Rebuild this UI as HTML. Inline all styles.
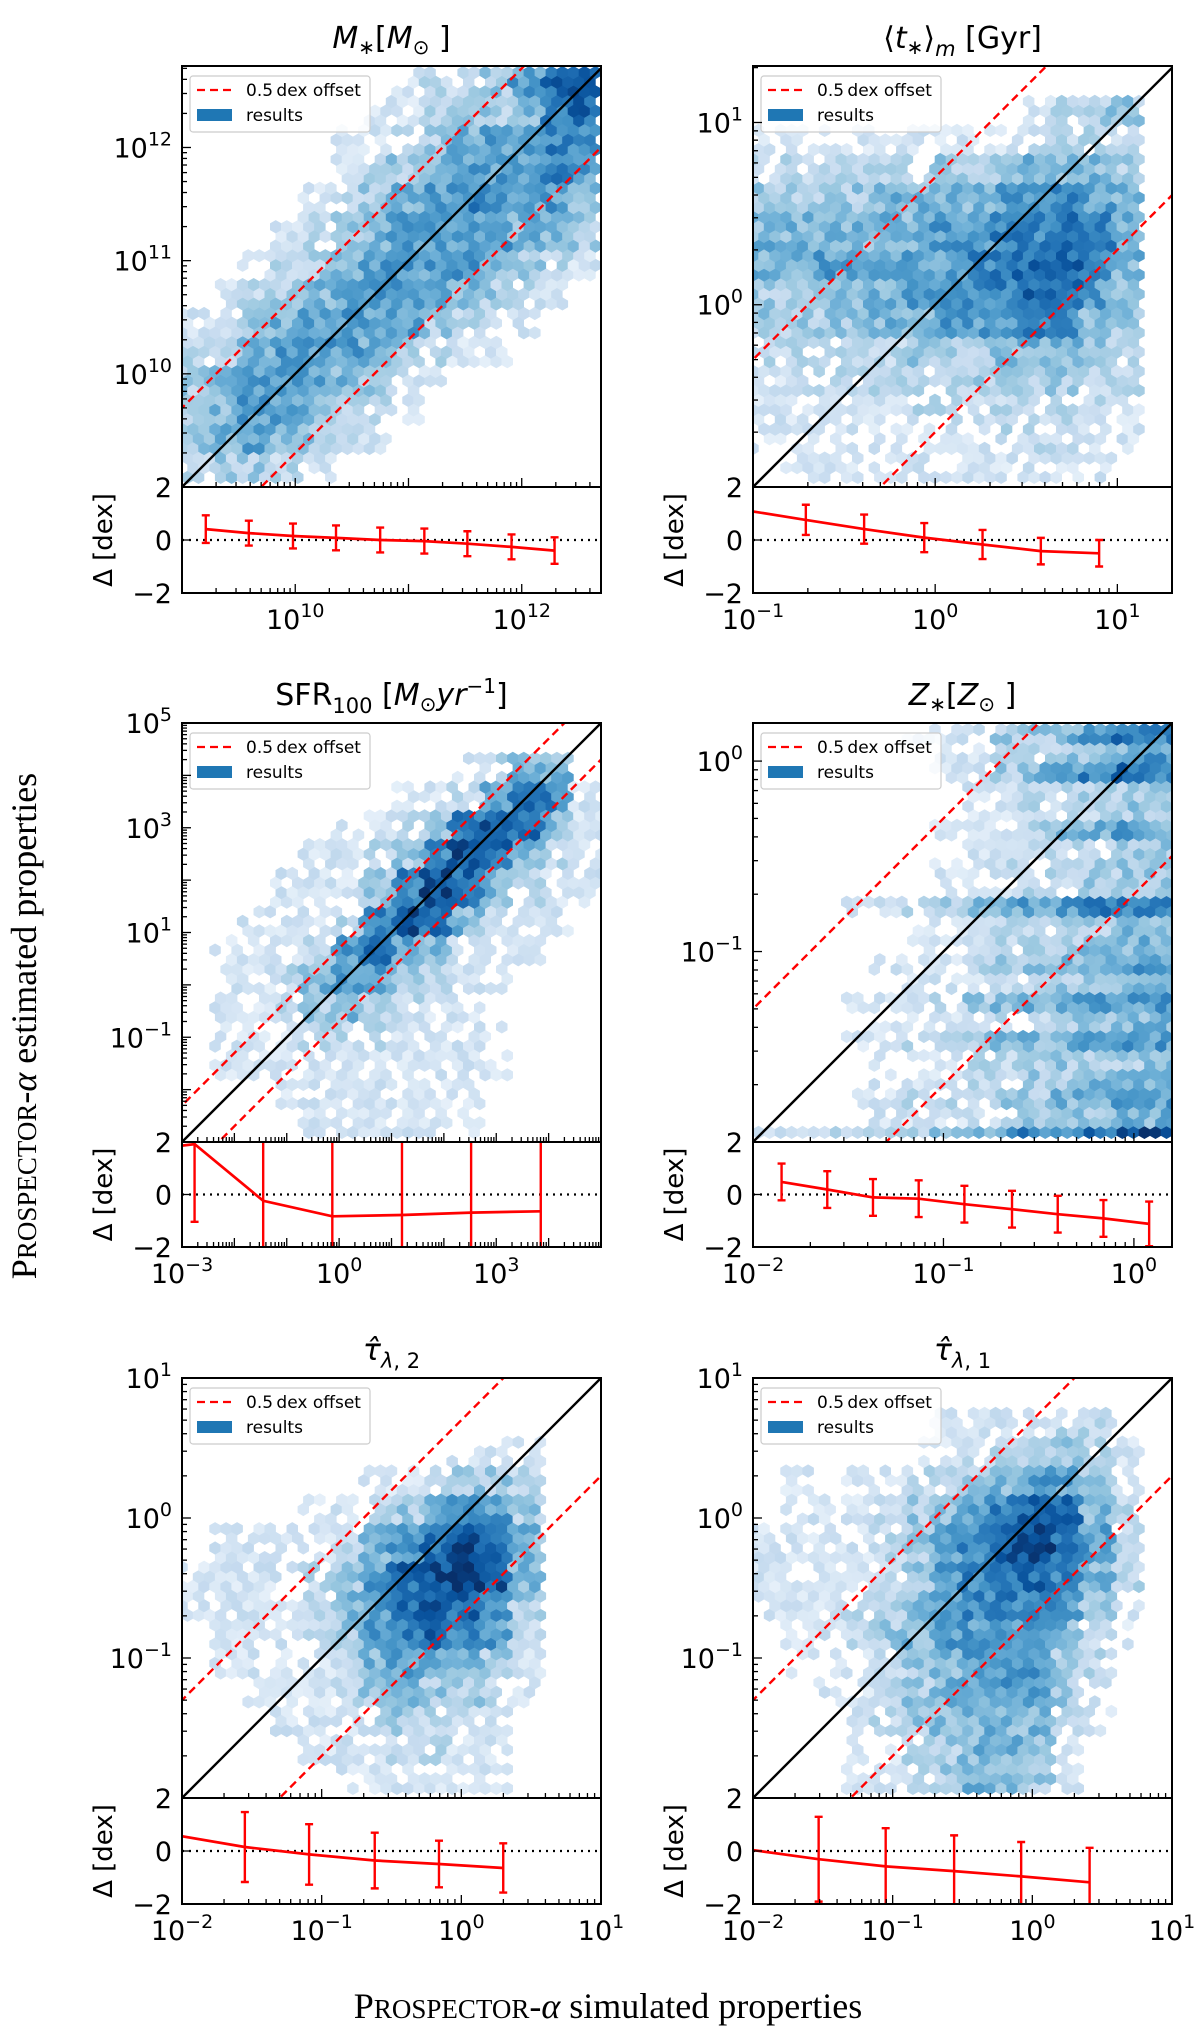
<!DOCTYPE html>
<html><head><meta charset="utf-8"><title>Prospector-alpha recovery</title>
<style>
html,body{margin:0;padding:0;background:#fff;}
svg{display:block;font-family:"DejaVu Sans","Liberation Sans",sans-serif;}
</style></head>
<body>
<svg id="fig" width="1200" height="2044" viewBox="0 0 1200 2044" xmlns="http://www.w3.org/2000/svg">
<text transform="translate(36,1026) rotate(-90)" text-anchor="middle" font-family="'Liberation Serif',serif" font-size="36">P<tspan font-size="27">ROSPECTOR</tspan>-<tspan font-style="italic">α</tspan> estimated properties</text>
<text x="608" y="2018" text-anchor="middle" font-family="'Liberation Serif',serif" font-size="36">P<tspan font-size="27">ROSPECTOR</tspan>-<tspan font-style="italic">α</tspan> simulated properties</text>
</svg>
<script>
// ---------- data ----------
const massDensity=["00000001223578","00000011233467","00000112345566","00000123455565","00001234565554","00012345555443","00123455554321","01234555543210","12345555321100","23455543211000","34555432100000","34554321000000","34543210000000","23321000000000"];
const ageDensity=["00000000000000","00000000012330","11111111122220","22222233344430","33334444556540","44444455667640","44555556777640","33444556677530","33334455566430","22222333444320","12222223333220","11111222222210","11111111222110","01111111111100"];
const sfrDensity=["00000000000000","00000000012440","00000001125761","00000112368741","00001123687421","00011136874211","00111268742110","01112575421100","01124553211000","01123432110000","01112221111000","01111111111000","00011111110000","00001111110000"];
const metDensity=["00000112334576","00000011223345","00000012345676","00000001122333","00000001122233","00000011234454","00000001122233","00000011223333","00000011122333","00011234455666","00000111223344","00000112233444","00001112334455","00000111223344","00011123445555","00001111223344","00011223444555","00001112233334","00001112233444","00011222334455","00001112233344","11223344566789"];
const tau2Density=["00000000000000","00000000000000","00000000011100","00000011233200","00001123455300","01111245787400","11112357898400","11112457876300","01112356765200","01111245543100","00111234332100","00011123221000","00001112211000","00000111111000"];
const tau1Density=["00000000000000","00000011112200","00000112233210","01011223455310","01112345677420","11112356887520","11112356776420","11123456665310","01123455554210","01112345553200","00112345553100","00012344442100","00011234431000","00011234431000"];

const massResX=[9.21,9.59,9.98,10.36,10.75,11.14,11.52,11.91,12.29];
const massResY=[0.41,0.26,0.15,0.08,0.0,-0.04,-0.14,-0.26,-0.40];
const massResErr=[0.52,0.47,0.47,0.47,0.47,0.47,0.47,0.47,0.50];
const ageResX=[-1.04,-0.71,-0.39,-0.06,0.26,0.58,0.90];
const ageResY=[1.12,0.76,0.41,0.09,-0.17,-0.42,-0.50];
const ageResErr=[0,0.57,0.55,0.55,0.55,0.50,0.50];
const sfrResX=[-3.1,-2.76,-1.45,-0.13,1.2,2.52,3.85];
const sfrResY=[1.84,1.92,-0.24,-0.83,-0.78,-0.69,-0.64];
const sfrResErr=[0,2.96,3.5,3.5,3.5,3.5,2.65];
const metResX=[-1.85,-1.61,-1.37,-1.13,-0.89,-0.64,-0.40,-0.16,0.08];
const metResY=[0.48,0.19,-0.11,-0.16,-0.37,-0.56,-0.75,-0.91,-1.12];
const metResErr=[0.7,0.7,0.7,0.7,0.7,0.7,0.7,0.7,0.85];
const tau2ResX=[-2.05,-1.55,-1.09,-0.62,-0.16,0.30];
const tau2ResY=[0.60,0.15,-0.13,-0.36,-0.49,-0.64];
const tau2ResErr=[0,1.32,1.14,1.05,0.88,0.93];
const tau1ResX=[-2.05,-1.53,-1.05,-0.56,-0.08,0.41];
const tau1ResY=[0.07,-0.31,-0.58,-0.76,-0.96,-1.18];
const tau1ResErr=[0,1.6,1.44,1.35,1.3,1.3];

const massXTicks=[10,12], massYTicks=[10,11,12];
const ageXTicks=[-1,0,1], ageYTicks=[0,1];
const sfrXTicks=[-3,0,3], sfrYTicks=[-1,1,3,5];
const metXTicks=[-2,-1,0], metYTicks=[-1,0];
const tauXTicks=[-2,-1,0,1], tauYTicks=[-1,0,1];
const resTicks=[2,0,-2];
const offsetDex=0.699;

// ---------- layout ----------
const colX=[182,753], PW=419;
const rowTop=[66,723,1378], rowMid=[487,1142,1798], rowBot=[593,1247,1904];
const panels=[
 {key:'mass',c:0,r:0,xr:[9,12.7],yr:[9,12.72],dens:massDensity,rx:massResX,ry:massResY,re:massResErr,xt:massXTicks,yt:massYTicks,
  title:'<tspan font-style="italic">M</tspan><tspan font-size="20" dy="6">∗</tspan><tspan dy="-6">[</tspan><tspan font-style="italic">M</tspan><tspan font-size="20" dy="6">⊙</tspan><tspan dy="-6"> ]</tspan>'},
 {key:'age',c:1,r:0,xr:[-1,1.3],yr:[-1,1.31],dens:ageDensity,rx:ageResX,ry:ageResY,re:ageResErr,xt:ageXTicks,yt:ageYTicks,
  title:'⟨<tspan font-style="italic">t</tspan><tspan font-size="20" dy="6">∗</tspan><tspan dy="-6">⟩</tspan><tspan font-style="italic" font-size="21" dy="8">m</tspan><tspan dy="-8"> [Gyr]</tspan>'},
 {key:'sfr',c:0,r:1,xr:[-3,5],yr:[-3,5],dens:sfrDensity,rx:sfrResX,ry:sfrResY,re:sfrResErr,xt:sfrXTicks,yt:sfrYTicks,
  title:'SFR<tspan font-size="21" dy="8">100</tspan><tspan dy="-8"> [</tspan><tspan font-style="italic">M</tspan><tspan font-size="20" dy="6">⊙</tspan><tspan font-style="italic" dy="-6">yr</tspan><tspan font-size="20" dy="-12">−1</tspan><tspan dy="12">]</tspan>'},
 {key:'met',c:1,r:1,xr:[-2,0.2],yr:[-2,0.2],dens:metDensity,rx:metResX,ry:metResY,re:metResErr,xt:metXTicks,yt:metYTicks,
  title:'<tspan font-style="italic">Z</tspan><tspan font-size="20" dy="6">∗</tspan><tspan dy="-6">[</tspan><tspan font-style="italic">Z</tspan><tspan font-size="20" dy="6">⊙</tspan><tspan dy="-6"> ]</tspan>'},
 {key:'tau2',c:0,r:2,xr:[-2,1],yr:[-2,1],dens:tau2Density,rx:tau2ResX,ry:tau2ResY,re:tau2ResErr,xt:tauXTicks,yt:tauYTicks,
  title:'<tspan font-style="italic">τ̂</tspan><tspan font-style="italic" font-size="21" dy="8">λ</tspan><tspan font-size="21">, 2</tspan>'},
 {key:'tau1',c:1,r:2,xr:[-2,1],yr:[-2,1],dens:tau1Density,rx:tau1ResX,ry:tau1ResY,re:tau1ResErr,xt:tauXTicks,yt:tauYTicks,
  title:'<tspan font-style="italic">τ̂</tspan><tspan font-style="italic" font-size="21" dy="8">λ</tspan><tspan font-size="21">, 1</tspan>'}
];

const NS='http://www.w3.org/2000/svg';
const svg=document.getElementById('fig');
function el(tag,attrs,parent){const e=document.createElementNS(NS,tag);for(const k in attrs)e.setAttribute(k,attrs[k]);(parent||svg).appendChild(e);return e;}
const blues=[[247,251,255],[222,235,247],[198,219,239],[158,202,225],[107,174,214],[66,146,198],[33,113,181],[8,81,156],[8,48,107]];
function blue(t){t=Math.max(0,Math.min(1,t))*8;const i=Math.min(7,Math.floor(t)),f=t-i;const a=blues[i],b=blues[i+1];
 return 'rgb('+a.map((v,k)=>Math.round(v+(b[k]-v)*f)).join(',')+')';}
// deterministic texture pattern for hex shading (styling only)
function texture(i,j){const h=Math.sin(i*12.9898+j*78.233)*43758.5453;return h-Math.floor(h);}
function expLabel(g,x,y,anchor,exp,name){
 const t=el('text',{x:x,y:y,'text-anchor':anchor,'font-size':27,fill:'#000'},g);
 
 
 t.innerHTML='10<tspan font-size="19" dy="-12">'+(exp<0?'−'+(-exp):exp)+'</tspan>';
 return t;}
const defs=el('defs',{});

panels.forEach((p,pi)=>{
 const x0=colX[p.c], x1=x0+PW, top=rowTop[p.r], mid=rowMid[p.r], bot=rowBot[p.r];
 const sx=v=>x0+(v-p.xr[0])/(p.xr[1]-p.xr[0])*PW;
 const sy=v=>mid-(v-p.yr[0])/(p.yr[1]-p.yr[0])*(mid-top);
 const ry=v=>bot-(v+2)/4*(bot-mid);
 const g=el('g',{});
 
 
 const cm=el('clipPath',{id:'cm'+pi},defs); el('rect',{x:x0,y:top,width:PW,height:mid-top},cm);
 const cr=el('clipPath',{id:'cr'+pi},defs); el('rect',{x:x0,y:mid,width:PW,height:bot-mid},cr);
 const tt=el('text',{x:(x0+x1)/2,y:top-18,'text-anchor':'middle','font-size':30},g);
 
 
 tt.innerHTML=p.title;
 const hg=el('g',{'clip-path':'url(#cm'+pi+')'},g);
 
 
 const nr=p.dens.length, nc=p.dens[0].length;
 const dxv=(p.xr[1]-p.xr[0])/38, dx=sx(p.xr[0]+dxv)-sx(p.xr[0]); const rr=dx/Math.sqrt(3)*1.04;
 const dyv=(p.yr[1]-p.yr[0])/38*0.87;
 let row=0;
 for(let yv=p.yr[0]; yv<=p.yr[1]+dyv; yv+=dyv,row++){
  let col=0;
  for(let xv=p.xr[0]+(row%2?dxv/2:0); xv<=p.xr[1]+dxv; xv+=dxv,col++){
   const ci=Math.floor((xv-p.xr[0])/(p.xr[1]-p.xr[0])*nc), ri=Math.floor((p.yr[1]-yv)/(p.yr[1]-p.yr[0])*nr);
   if(ci<0||ci>=nc||ri<0||ri>=nr) continue;
   const v=+p.dens[ri][ci]; if(!v) continue;
   const tx=texture(row+pi*97,col);
   if(v<=2 && tx<0.45-0.12*v) continue;
   const lvl=v+(tx-0.5)*2.6;
   const cx=sx(xv), cy=sy(yv), h=dx/2*1.04;
   const pts=[[0,-rr],[h,-rr/2],[h,rr/2],[0,rr],[-h,rr/2],[-h,-rr/2]].map(q=>(cx+q[0]).toFixed(1)+','+(cy+q[1]).toFixed(1)).join(' ');
   const hx=el('polygon',{points:pts,fill:blue(0.03+lvl/9*0.95)},hg);
   
   
  }
 }
 const lg=el('g',{'clip-path':'url(#cm'+pi+')'},g);
 const lo=Math.min(p.xr[0],p.yr[0])-1, hi=Math.max(p.xr[1],p.yr[1])+1;
 const one=el('line',{x1:sx(lo),y1:sy(lo),x2:sx(hi),y2:sy(hi),stroke:'#000','stroke-width':2.4},lg);
 
 
 [offsetDex,-offsetDex].forEach(o=>{
  const d=el('line',{x1:sx(lo),y1:sy(lo+o),x2:sx(hi),y2:sy(hi+o),stroke:'#f00','stroke-width':2.4,'stroke-dasharray':'8,5'},lg);
  
  
 });
 const lgd=el('g',{},g);
 
 
 el('rect',{x:x0+8,y:top+10,width:180,height:56,rx:3,fill:'#fff','fill-opacity':0.8,stroke:'#ccc','stroke-width':1.2},lgd);
 el('line',{x1:x0+15,y1:top+24,x2:x0+50,y2:top+24,stroke:'#f00','stroke-width':2.2,'stroke-dasharray':'8,5'},lgd);
 el('rect',{x:x0+15,y:top+43,width:35,height:12,fill:'#1f77b4'},lgd);
 const l1=el('text',{x:x0+64,y:top+30,'font-size':17},lgd); l1.textContent='0.5\u2009dex offset';
 
 
 const l2=el('text',{x:x0+64,y:top+55,'font-size':17},lgd); l2.textContent='results';
 
 
 const rg=el('g',{'clip-path':'url(#cr'+pi+')'},g);
 
 
 el('line',{x1:x0,y1:ry(0),x2:x1,y2:ry(0),stroke:'#000','stroke-width':2.2,'stroke-dasharray':'2,5'},rg);
 const path=p.rx.map((xv,i)=>(i?'L':'M')+sx(xv).toFixed(1)+','+ry(p.ry[i]).toFixed(1)).join(' ');
 const pl=el('path',{d:path,fill:'none',stroke:'#f00','stroke-width':2.7},rg);
 
 
 p.rx.forEach((xv,i)=>{
  if(!p.re[i]) return;
  const X=sx(xv), a=ry(p.ry[i]+p.re[i]), b=ry(p.ry[i]-p.re[i]);
  const eb=el('path',{d:`M${X},${a}L${X},${b}M${X-4},${a}L${X+4},${a}M${X-4},${b}L${X+4},${b}`,stroke:'#f00','stroke-width':2.4,fill:'none'},rg);
  
  
 });
 el('rect',{x:x0,y:top,width:PW,height:mid-top,fill:'none',stroke:'#000','stroke-width':2},g);
 el('rect',{x:x0,y:mid,width:PW,height:bot-mid,fill:'none',stroke:'#000','stroke-width':2},g);
 const tk=el('g',{stroke:'#000','stroke-width':1.3},g);
 for(let d=Math.floor(p.yr[0]);d<=p.yr[1];d++){for(let m=1;m<10;m++){const v=d+Math.log10(m);if(v<p.yr[0]||v>p.yr[1])continue;
  const Y=sy(v);el('line',{x1:x0,y1:Y,x2:x0+(m==1?9:5),y2:Y},tk);}}
 for(let d=Math.floor(p.xr[0]);d<=p.xr[1];d++){for(let m=1;m<10;m++){const v=d+Math.log10(m);if(v<p.xr[0]||v>p.xr[1])continue;
  const X=sx(v),L=(m==1?9:5);el('line',{x1:X,y1:bot,x2:X,y2:bot-L},tk);el('line',{x1:X,y1:mid,x2:X,y2:mid-L},tk);}}
 resTicks.forEach(v=>el('line',{x1:x0,y1:ry(v),x2:x0+9,y2:ry(v)},tk));
 p.yt.forEach(v=>expLabel(g,x0-10,sy(v)+10,'end',v,'y-tick-label'));
 p.xt.forEach(v=>expLabel(g,sx(v),bot+36,'middle',v,'x-tick-label'));
 resTicks.forEach(v=>{const t=el('text',{x:x0-10,y:ry(v)+10,'text-anchor':'end','font-size':27},g);t.textContent=v<0?'−'+(-v):String(v);
  
  });
 const rl=el('text',{transform:`translate(${x0-70},${(mid+bot)/2}) rotate(-90)`,'text-anchor':'middle','font-size':26},g);
 rl.textContent='Δ [dex]';
 
 
});
</script>
</body></html>
